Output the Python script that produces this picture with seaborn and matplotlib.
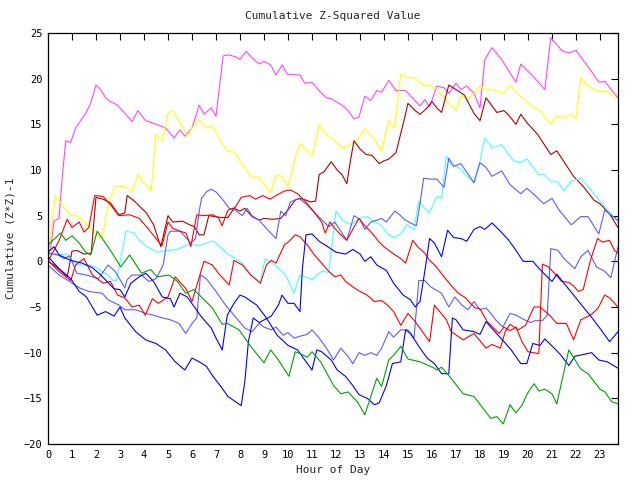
import pandas as pd
import matplotlib
matplotlib.use("Agg")
import matplotlib.pyplot as plt
import seaborn as sns

# values: (hour, cumulative value) per series
magenta_h = [0, 0.15, 0.25, 0.46, 0.6, 0.74, 0.94, 1.15, 1.36, 1.57, 1.78, 2.0, 2.2, 2.4, 2.6, 2.9, 3.2, 3.5,
             3.75, 4.07, 4.5, 4.9, 5.25, 5.5, 5.7, 6.0, 6.3, 6.5, 6.8, 7.0, 7.3, 7.55, 7.8, 8.0, 8.26, 8.5, 8.8,
             9.0, 9.28, 9.5, 9.76, 9.96, 10.5, 10.7, 11.0, 11.4, 11.6, 11.8, 12.25, 12.5, 12.75, 12.96, 13.2,
             13.45, 13.7, 13.9, 14.2, 14.5, 14.9, 15.5, 15.7, 15.9, 16.2, 16.5, 16.7, 17.0, 17.2, 17.45, 17.75,
             18.0, 18.2, 18.5, 18.9, 19.5, 19.7, 20.2, 20.7, 20.95, 21.4, 21.7, 22.0, 22.45, 22.96, 23.2, 23.75]
magenta_v = [0.3, 2.2, 4.4, 4.7, 9.4, 13.2, 13.0, 14.6, 15.4, 16.2, 17.3, 19.3, 18.8, 17.9, 17.5, 17.1, 16.2, 15.3,
             16.5, 15.4, 15.0, 14.6, 13.5, 14.4, 13.7, 14.6, 17.1, 16.1, 16.8, 15.9, 22.5, 22.6, 22.4, 22.1, 23.0,
             22.3, 21.6, 21.9, 21.5, 20.4, 21.5, 20.5, 20.4, 19.5, 19.6, 18.4, 17.9, 17.8, 17.1, 16.5, 15.6, 15.8,
             18.1, 17.6, 18.7, 18.5, 19.8, 18.7, 18.7, 17.0, 17.7, 16.9, 19.2, 19.0, 18.4, 19.5, 18.8, 19.2, 18.4,
             16.8, 22.1, 23.4, 22.1, 19.6, 21.6, 20.3, 18.8, 24.5, 23.1, 22.8, 23.1, 21.5, 19.6, 19.7, 17.9]

yellow_h = [0, 0.3, 0.46, 0.74, 1.0, 1.2, 1.5, 1.78, 2.05, 2.25, 2.55, 2.8, 3.2, 3.5, 3.75, 4.0, 4.3, 4.5, 4.76,
            5.0, 5.2, 5.46, 5.8, 6.0, 6.3, 6.6, 6.85, 7.2, 7.5, 7.75, 8.1, 8.5, 8.8, 9.28, 9.5, 9.76, 10.0, 10.3,
            10.5, 11.0, 11.3, 11.6, 11.9, 12.3, 12.5, 12.9, 13.2, 13.5, 13.9, 14.2, 14.45, 14.7, 15.0, 15.25,
            15.7, 15.9, 16.2, 16.6, 17.0, 17.2, 17.5, 17.75, 18.0, 18.2, 18.5, 19.0, 19.25, 19.55, 20.1, 20.5,
            20.95, 21.2, 21.5, 21.8, 22.0, 22.2, 22.5, 22.9, 23.3, 23.75]
yellow_v = [0.0, 7.2, 6.7, 5.6, 5.0, 5.0, 4.4, 3.6, 2.8, 2.5, 6.6, 8.2, 8.2, 7.6, 9.5, 8.6, 7.7, 13.9, 13.2,
            16.2, 16.5, 15.4, 13.7, 14.6, 15.5, 14.6, 14.8, 13.2, 12.0, 12.0, 10.6, 9.1, 9.2, 7.5, 9.4, 9.3, 8.2,
            11.3, 12.9, 11.5, 14.9, 13.9, 13.3, 12.4, 12.6, 13.3, 14.5, 13.7, 12.1, 15.4, 14.6, 20.5, 20.1, 20.1,
            19.2, 19.3, 18.8, 17.6, 16.5, 18.1, 17.8, 18.4, 19.2, 18.8, 18.8, 18.4, 19.3, 18.4, 17.1, 16.5,
            15.0, 15.9, 15.7, 16.1, 15.6, 20.1, 19.2, 18.6, 18.6, 17.8]

darkred_h = [0, 0.25, 0.6, 0.8, 1.0, 1.2, 1.5, 1.8, 2.0, 2.3, 2.6, 2.95, 3.2, 3.3, 3.6, 3.9, 4.1, 4.4, 4.7, 5.0,
             5.2, 5.6, 5.9, 6.1, 6.3, 6.5, 6.7, 7.2, 7.5, 7.75, 8.0, 8.2, 8.5, 8.8, 9.0, 9.35, 9.7, 10.05, 10.3,
             10.5, 10.75, 10.95, 11.15, 11.3, 11.5, 11.8, 12.05, 12.25, 12.45, 12.6, 12.75, 13.0, 13.25, 13.5,
             13.8, 14.0, 14.2, 14.5, 14.65, 14.85, 15.0, 15.3, 15.5, 15.8, 16.0, 16.2, 16.4, 16.7, 17.0, 17.35,
             17.75, 18.0, 18.25, 18.45, 18.7, 19.0, 19.2, 19.5, 19.7, 19.95, 20.4, 20.95, 21.2, 21.5, 21.9,
             22.3, 22.75, 23.0, 23.4, 23.75]
darkred_v = [0.0, -0.4, -1.2, -1.7, 1.1, 1.2, 0.8, 0.9, 7.0, 6.8, 6.4, 5.1, 5.3, 7.2, 6.6, 5.8, 5.3, 4.0, 1.6, 5.0,
             4.3, 4.4, 4.0, 3.8, 2.9, 2.9, 5.0, 4.8, 4.8, 5.8, 5.5, 5.8, 4.9, 4.5, 4.7, 4.6, 4.7, 5.8, 6.7,
             6.9, 6.7, 6.5, 6.6, 9.5, 9.8, 10.9, 10.0, 9.5, 8.5, 11.0, 13.2, 12.3, 11.7, 11.6,
             10.7, 11.0, 11.2, 11.9, 13.5, 15.6, 17.3, 16.5, 16.1, 16.8, 17.5, 16.8, 16.3, 19.3, 18.8, 18.2,
             16.2, 15.4, 17.9, 17.2, 16.3, 16.5, 16.0, 15.0, 16.1, 15.2, 13.9, 11.7, 12.1, 10.9, 9.3,
             8.2, 6.7, 6.3, 5.2, 3.7]

cyan_h = [0, 0.46, 0.8, 1.0, 1.3, 1.7, 1.95, 2.25, 2.5, 2.7, 2.85, 3.05, 3.25, 3.6, 3.8, 4.15, 4.55, 5.0, 5.4,
          5.9, 6.3, 6.6, 6.9, 7.5, 8.1, 8.45, 8.85, 9.05, 9.5, 9.9, 10.25, 10.5, 11.0, 11.4, 11.7, 11.85, 12.0,
          12.3, 12.65, 12.96, 13.3, 13.5, 13.85, 14.2, 14.4, 14.7, 14.96, 15.25, 15.45, 15.7, 15.9, 16.2, 16.4,
          16.6, 16.8, 17.1, 17.35, 17.75, 18.0, 18.2, 18.5, 18.9, 19.4, 19.7, 19.95, 20.45, 20.7, 20.95, 21.25,
          21.5, 21.8, 22.2, 22.5, 22.9, 23.25, 23.75]
cyan_v = [1.0, 0.7, 0.8, 0.0, -0.4, -0.4, -0.6, -1.1, -1.5, -2.1, -2.1, 0.5, 3.3, 3.1, 2.3, 1.6, 1.0, 1.2, 1.3,
          1.9, 1.7, 2.0, 2.2, 0.8, -0.2, -1.5, -2.2, 0.3, -0.5, -1.5, -3.5, -1.5, -2.0, -1.1, -1.2, 2.2, 5.5,
          4.4, 4.0, 4.7, 4.9, 4.5, 4.0, 2.9, 2.6, 3.0, 4.0, 3.5, 6.6, 5.8, 5.3, 7.1, 6.9,
          11.5, 10.6, 10.3, 9.6, 8.6, 11.0, 13.5, 12.4, 12.8, 11.0, 10.8, 11.2, 9.5, 9.5, 8.7, 8.7,
          7.7, 8.8, 9.1, 8.2, 6.9, 5.8, 4.3]

red1_h = [0, 0.45, 0.8, 1.0, 1.3, 1.5, 1.7, 1.95, 2.3, 2.6, 2.95, 3.4, 3.8, 4.1, 4.5, 4.75, 5.0, 5.2, 5.5, 5.75,
          5.95, 6.2, 6.5, 6.85, 7.1, 7.25, 7.5, 7.8, 8.05, 8.4, 8.65, 8.95, 9.25, 9.5, 9.85, 10.1, 10.4, 10.7,
          11.0, 11.4, 11.55, 11.75, 11.95, 12.2, 12.45, 12.7, 12.95, 13.2, 13.5, 13.8, 14.0, 14.35, 14.7, 14.9,
          15.2, 15.4, 15.7, 15.9, 16.15, 16.5, 16.85, 17.1, 17.4, 17.6, 17.8, 18.0, 18.3, 18.8, 19.0, 19.25,
          19.5, 19.75, 20.0, 20.45, 20.6, 20.85, 21.1, 21.4, 21.7, 21.9, 22.1, 22.3, 22.6, 22.9, 23.1, 23.4,
          23.6, 23.75]
red1_v = [0.0, 2.2, 4.6, 3.7, 4.3, 3.2, 3.7, 7.2, 7.1, 6.2, 5.0, 5.1, 4.7, 3.8, 2.5, 1.7, 4.3, 3.6, 3.3, 3.1,
          1.6, 5.1, 5.0, 5.1, 4.8, 3.9, 5.6, 5.9, 7.0, 7.2, 6.8, 7.2, 6.8, 7.2, 7.7, 7.8, 7.4, 6.6,
          5.7, 4.3, 3.1, 4.3, 3.6, 2.9, 2.3, 3.5, 4.7, 3.9, 3.1, 2.1, 1.6, 0.9, 0.3, -0.2,
          2.3, 1.6, 0.9, 0.1, -0.5, -1.7, -2.8, -3.5, -4.0, -4.6, -5.1, -5.2, -6.6, -7.9, -7.2, -7.6,
          -7.2, -8.8, -9.9, -10.1, -0.3, -0.6, -1.3, -2.2, -2.3, -2.7, -3.3, -3.1, 0.1, 2.5, 2.1, 2.3,
          1.2, 0.9]

red2_h = [0, 0.45, 0.95, 1.15, 1.5, 1.85, 2.3, 2.6, 2.9, 3.2, 3.5, 3.8, 4.05, 4.35, 4.6, 5.0, 5.3, 5.75, 6.0,
          6.5, 6.85, 7.1, 7.55, 7.75, 8.1, 8.45, 8.85, 9.1, 9.3, 9.5, 9.85, 10.05, 10.3, 10.5, 10.8, 11.1,
          11.4, 11.7, 11.95, 12.2, 12.4, 12.7, 13.0, 13.3, 13.6, 13.9, 14.15, 14.4, 14.7, 15.0, 15.3, 15.6,
          15.9, 16.1, 16.6, 16.8, 17.3, 17.75, 18.25, 18.5, 18.85, 19.05, 19.25, 19.6, 19.9, 20.25, 20.5,
          20.9, 21.2, 21.6, 21.9, 22.2, 22.6, 22.9, 23.2, 23.4, 23.75]
red2_v = [0.1, -1.1, -2.1, -0.4, 0.3, -1.5, -2.4, -2.2, -3.7, -4.0, -5.0, -4.8, -5.9, -4.1, -4.6, -3.9, -1.7,
          -3.0, -4.4, 0.0, -0.4, -1.3, -2.6, 0.1, -0.4, -1.5, -2.4, -0.4, 0.1, -0.2, 1.8, 2.2, 2.9, 2.7, 1.8,
          0.7, -0.2, -1.1, -1.7, -1.5, -2.2, -2.8, -3.3, -3.7, -4.4, -4.3, -4.8, -5.5, -7.0, -5.7, -6.6, -7.7,
          -8.8, -4.8, -6.4, -7.7, -8.6, -7.9, -9.5, -9.1, -9.5, -7.7, -6.9, -7.5, -7.0, -5.0, -5.0,
          -5.9, -6.8, -6.8, -8.6, -6.4, -5.9, -5.2, -3.7, -4.0, -5.0]

blue1_h = [0, 0.46, 0.95, 1.3, 1.6, 2.05, 2.4, 2.75, 3.0, 3.2, 3.65, 4.07, 4.5, 4.9, 5.3, 5.7, 6.0, 6.3, 6.6,
           6.85, 7.2, 7.5, 8.05, 8.2, 8.35, 8.55, 8.8, 9.3, 9.6, 9.75, 10.0, 10.25, 10.5, 10.6, 10.75, 11.0,
           11.3, 11.6, 12.0, 12.4, 12.7, 13.0, 13.2, 13.45, 13.7, 14.1, 14.4, 14.8, 15.1, 15.3, 15.5, 15.7,
           15.9, 16.1, 16.4, 16.65, 16.9, 17.2, 17.45, 17.75, 18.0, 18.2, 18.5, 18.85, 19.2, 19.5, 19.8, 20.2,
           20.4, 20.65, 21.0, 21.2, 21.5, 21.9, 22.3, 22.7, 23.1, 23.4, 23.75]
blue1_v = [0.5, -0.8, -1.9, -3.3, -3.9, -5.9, -5.5, -6.0, -5.0, -6.2, -7.7, -8.6, -9.0, -9.7, -11.0, -11.9,
           -10.6, -11.0, -11.5, -12.5, -13.7, -14.8, -15.8, -13.2, -8.8, -6.2, -6.7, -6.0, -4.8, -3.7, -4.6,
           -4.6, -5.5, -0.8, 2.9, 3.0, 2.2, 1.7, 1.0, 0.8, 1.3, 0.8, 0.0, 0.5, -0.4, -1.0, -2.4, -3.7, -4.2,
           -5.0, -4.4, -1.1, 2.5, 2.0, 0.5, 3.4, 2.6, 2.5, 2.2, 3.5, 3.8, 3.5, 4.2, 3.3, 2.3, 1.2, 0.0, 0.0,
           -0.6, -1.3, -2.2, -1.4, -2.4, -3.7, -5.0, -6.3, -7.7, -8.8, -7.7]

blue2_h = [0, 0.25, 0.46, 0.95, 1.43, 1.85, 2.2, 2.75, 3.0, 3.2, 3.45, 3.8, 4.07, 4.4, 4.76, 5.1, 5.25, 5.5,
           5.8, 6.1, 6.4, 6.8, 7.0, 7.26, 7.47, 7.75, 8.0, 8.2, 8.7, 9.1, 9.55, 10.0, 10.4, 10.7, 11.0, 11.2,
           11.4, 11.8, 12.05, 12.4, 12.7, 12.96, 13.3, 13.6, 13.8, 14.1, 14.35, 14.7, 14.9, 15.1, 15.5, 15.8,
           16.1, 16.4, 16.7, 16.85, 17.0, 17.3, 17.75, 18.0, 18.25, 18.45, 19.0, 19.3, 19.7, 19.95, 20.2, 20.5,
           20.7, 21.05, 21.35, 21.7, 21.95, 22.3, 22.65, 22.95, 23.3, 23.75]
blue2_v = [1.0, 1.6, 0.7, 0.1, -0.2, -0.7, -1.5, -3.0, -3.1, -3.9, -2.4, -1.7, -1.3, -2.2, -3.9, -4.1, -5.0,
           -3.5, -3.9, -5.0, -6.1, -7.3, -8.4, -9.7, -5.9, -4.6, -3.7, -3.9, -4.8, -6.2, -8.1, -9.2, -9.7,
           -10.8, -11.9, -9.7, -9.9, -10.8, -11.9, -12.6, -13.6, -14.6, -15.0, -15.7, -15.5, -13.6, -11.2,
           -11.0, -7.5, -7.9, -9.5, -10.6, -11.2, -12.3, -12.3, -6.2, -6.4, -7.5, -7.7, -8.0, -6.6, -7.2,
           -8.8, -9.7, -11.2, -11.2, -9.0, -9.2, -8.5, -9.4, -10.2, -11.4, -10.4, -10.2, -10.0, -10.8,
           -11.0, -11.7]

slate1_h = [0, 0.4, 0.67, 0.9, 1.2, 1.6, 2.1, 2.5, 2.8, 3.2, 3.3, 3.5, 3.9, 4.2, 4.5, 4.8, 5.0, 5.1, 5.5, 5.95,
            6.15, 6.3, 6.4, 6.6, 6.8, 7.0, 7.3, 7.55, 7.8, 8.1, 8.3, 8.5, 8.8, 9.1, 9.5, 9.7, 9.9, 10.1, 10.45,
            10.75, 11.0, 11.35, 11.7, 11.95, 12.2, 12.45, 12.75, 13.0, 13.2, 13.45, 13.7, 13.9, 14.1, 14.45,
            14.65, 14.85, 15.1, 15.35, 15.5, 15.65, 15.95, 16.2, 16.5, 16.7, 16.9, 17.2, 17.75, 18.0, 18.25,
            18.5, 18.9, 19.25, 19.7, 19.95, 20.3, 20.65, 21.0, 21.3, 21.8, 22.2, 22.5, 22.95, 23.2, 23.75]
slate1_v = [0.9, 0.7, 0.3, 0.6, -1.3, -1.5, -1.9, -0.4, -1.1, -2.9, -2.0, -1.5, -1.5, -2.2, -1.9, -0.4, 2.9,
            3.3, 3.3, 2.0, 2.5, 5.5, 6.9, 7.6, 7.9, 7.6, 6.7, 5.8, 5.6, 5.0, 5.8, 5.0, 4.5, 3.6, 2.5, 5.5, 5.0,
            6.5, 6.9, 6.3, 5.6, 4.7, 3.8, 4.3, 3.3, 2.3, 5.0, 4.6, 3.5, 4.3, 4.5, 4.7, 4.3, 5.5, 5.1, 4.6, 4.2,
            3.9, 6.3, 9.1, 9.0, 9.0, 8.1, 11.3, 10.4, 10.7, 8.6, 10.8, 10.3, 9.3, 9.9, 8.4, 7.4, 8.0, 7.2, 6.3,
            6.9, 5.6, 4.0, 4.9, 4.9, 3.0, 5.6, 4.5]

slate2_h = [0, 0.46, 0.9, 1.3, 1.7, 2.26, 2.5, 2.96, 3.2, 3.65, 4.07, 4.4, 4.76, 5.1, 5.46, 5.74, 6.0, 6.2,
            6.35, 6.6, 7.0, 7.4, 7.75, 8.2, 8.5, 8.8, 9.0, 9.3, 9.5, 9.8, 10.0, 10.25, 10.5, 10.8, 11.0, 11.3,
            11.6, 11.9, 12.2, 12.5, 12.7, 12.96, 13.2, 13.45, 13.7, 13.9, 14.2, 14.4, 14.7, 15.0, 15.25, 15.45,
            15.7, 15.95, 16.4, 16.7, 16.95, 17.25, 17.5, 17.75, 18.0, 18.25, 18.45, 18.65, 18.95, 19.25, 19.5,
            19.85, 20.1, 20.3, 20.6, 20.8, 20.95, 21.25, 21.5, 21.95, 22.2, 22.5, 22.85, 23.2, 23.45, 23.75]
slate2_v = [-0.4, -1.5, -2.2, -2.9, -3.3, -3.5, -4.2, -4.8, -5.3, -5.3, -5.7, -5.9, -6.2, -6.4, -6.8, -7.9,
            -6.8, -6.2, -1.5, -1.9, -3.3, -4.8, -5.9, -7.3, -7.7, -6.8, -7.2, -7.5, -7.2, -8.1, -7.8, -8.4,
            -8.2, -8.0, -7.5, -8.4, -9.5, -10.8, -9.5, -10.4, -11.2, -10.0, -10.3, -10.0, -10.3, -9.5, -7.7,
            -8.3, -7.5, -7.5, -8.4, -2.1, -2.1, -2.8, -3.5, -5.0, -3.9, -4.8, -5.3, -4.4, -5.3, -5.1, -5.7,
            -6.4, -7.2, -5.7, -5.9, -6.4, -6.7, -6.5, -6.5, -5.9, 1.4, 1.2, 0.3, -0.8, 0.5, 1.2, -0.6, -1.1,
            -1.8, 1.6]

green_h = [0, 0.53, 0.74, 1.0, 1.3, 1.57, 1.78, 2.05, 2.26, 2.6, 3.03, 3.4, 3.9, 4.28, 4.55, 5.04, 5.39, 5.74,
           6.08, 6.43, 6.85, 7.26, 7.47, 7.96, 8.5, 9.0, 9.28, 9.6, 10.04, 10.3, 10.5, 10.8, 11.0, 11.36, 11.9,
           12.2, 12.5, 12.9, 13.2, 13.7, 13.9, 14.2, 14.4, 14.7, 15.0, 15.5, 16.1, 16.2, 16.4, 16.7, 17.3,
           17.75, 18.45, 18.7, 18.97, 19.25, 19.5, 19.76, 19.97, 20.25, 20.46, 20.7, 21.0, 21.2, 21.7, 22.2,
           22.5, 23.0, 23.2, 23.5, 23.75]
green_v = [1.8, 3.1, 2.3, 2.8, 2.0, 1.0, 0.7, 3.3, 2.5, 1.2, -0.6, 0.7, -1.3, -0.9, -1.7, -1.5, -2.2, -3.5,
           -3.1, -4.0, -5.1, -6.9, -6.8, -7.5, -9.5, -11.1, -9.7, -10.8, -12.6, -9.9, -10.1, -10.5, -9.9, -11.0,
           -13.6, -14.5, -14.3, -15.4, -16.8, -12.8, -13.7, -10.8, -10.3, -9.3, -10.7, -11.0, -11.7, -11.9,
           -11.6, -12.5, -14.5, -14.8, -17.2, -17.0, -17.8, -15.7, -16.6, -15.7, -14.5, -13.4, -14.2, -14.0,
           -14.5, -15.6, -9.7, -11.8, -12.3, -14.0, -14.3, -15.4, -15.6]

series = {
    "magenta": (magenta_h, magenta_v),
    "yellow": (yellow_h, yellow_v),
    "darkred": (darkred_h, darkred_v),
    "cyan": (cyan_h, cyan_v),
    "slate1": (slate1_h, slate1_v),
    "slate2": (slate2_h, slate2_v),
    "red1": (red1_h, red1_v),
    "red2": (red2_h, red2_v),
    "blue1": (blue1_h, blue1_v),
    "blue2": (blue2_h, blue2_v),
    "green": (green_h, green_v),
}
palette = {
    "magenta": "#ff44ff", "yellow": "#ffff00", "darkred": "#b00000", "cyan": "#44ffff",
    "slate1": "#5c5cff", "slate2": "#5c5cff", "red1": "#ff0000", "red2": "#ff0000",
    "blue1": "#0000ff", "blue2": "#0000ff", "green": "#00a000",
}

frames = []
for name, (hrs, vals) in series.items():
    frames.append(pd.DataFrame({"series": name, "hour": hrs, "value": vals}))
df = pd.concat(frames, ignore_index=True)

sns.set_style("white")
plt.rcParams["font.family"] = ["DejaVu Sans Mono"]

fig = plt.figure(figsize=(6.4, 4.8), dpi=100)
ax = fig.add_axes([48 / 640, 1 - 444 / 480, 570 / 640, 411 / 480])

sns.lineplot(data=df, x="hour", y="value", hue="series", palette=palette,
             hue_order=list(series.keys()), estimator=None, sort=False,
             linewidth=0.8, legend=False, ax=ax)

ax.set_xlim(0, 23.75)
ax.set_ylim(-20, 25)
ax.set_xticks(range(24))
ax.set_yticks(range(-20, 26, 5))
ax.tick_params(direction="in", top=True, right=True, length=5, width=0.8,
               labelsize=7.5, colors="black", pad=4)
for sp in ax.spines.values():
    sp.set_color("black")
    sp.set_linewidth(0.9)

ax.set_title("Cumulative Z-Squared Value", fontsize=8, pad=10)
ax.set_xlabel("Hour of Day", fontsize=8, labelpad=4)
ax.set_ylabel("Cumulative (Z*Z)-1", fontsize=8, labelpad=6)

fig.savefig("out.png", dpi=100, facecolor="white")
